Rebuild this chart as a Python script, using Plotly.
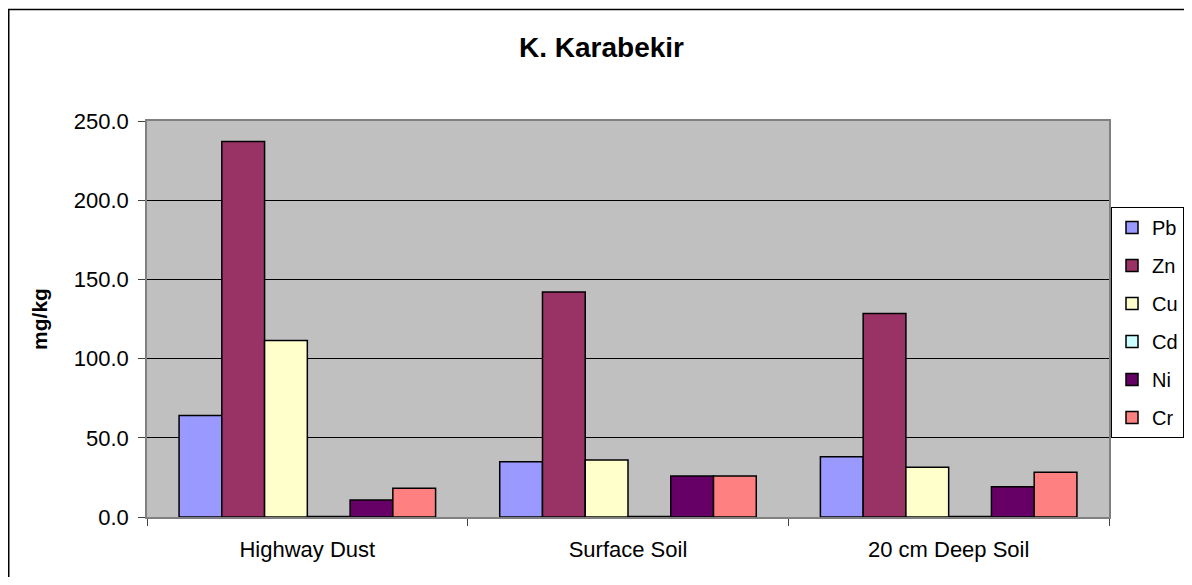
import plotly.graph_objects as go

categories = ["Highway Dust", "Surface Soil", "20 cm Deep Soil"]
series_names = ["Pb", "Zn", "Cu", "Cd", "Ni", "Cr"]
pb = [64.0, 34.9, 38.1]
zn = [237.0, 142.0, 128.5]
cu = [111.5, 36.0, 31.4]
cd = [0.3, 0.3, 0.3]
ni = [10.7, 25.9, 19.1]
cr = [18.1, 25.9, 28.2]
values = [pb, zn, cu, cd, ni, cr]
colors = ["#9999FF", "#993366", "#FFFFCC", "#CCFFFF", "#660066", "#FF8080"]
y_ticks = [0, 50, 100, 150, 200, 250]

FONT = "Liberation Sans, Arial, sans-serif"
OFF = 8  # page body margin
W, H = 1192 - 2 * OFF, 585 - 2 * OFF
L, R, T, B = 147 - OFF, 1109 - OFF, 121 - OFF, 517 - OFF
PW, PH = R - L, B - T

fig = go.Figure()
for name, vals, col in zip(series_names, values, colors):
    fig.add_trace(go.Bar(
        name=name, x=categories, y=vals, legendgroup=name,
        marker=dict(color=col, line=dict(color="black", width=1.5)),
    ))

fig.update_layout(
    width=W, height=H,
    margin=dict(l=L, r=W - R, t=T, b=H - B, autoexpand=False),
    paper_bgcolor="white", plot_bgcolor="#C0C0C0",
    barmode="group", bargap=0.2, bargroupgap=0,
    font=dict(family=FONT, size=22, color="black"),
    title=dict(text="<b>K. Karabekir</b>", x=(601.5 - OFF) / W, xanchor="center",
               xref="container", y=1 - (47 - OFF) / H, yanchor="middle",
               font=dict(family=FONT, size=28, color="black")),
    showlegend=True,
    legend=dict(x=(1111 - OFF - L) / PW, xanchor="left", y=(B - (207 - OFF)) / PH,
                yanchor="top", bordercolor="black", borderwidth=1, bgcolor="white",
                tracegroupgap=9, font=dict(family=FONT, size=20),
                itemwidth=30),
    xaxis=dict(showline=True, linecolor="#808080", linewidth=1.5, mirror=True,
               ticks="outside", tickson="boundaries", ticklen=7, tickcolor="#404040",
               automargin=False, ticklabelstandoff=12,
               tickfont=dict(family=FONT, size=22)),
    yaxis=dict(range=[0, 250], tickvals=y_ticks, tickformat=".1f",
               showline=True, linecolor="#808080", linewidth=1.5, mirror=True,
               ticks="outside", ticklen=7, tickcolor="#404040",
               showgrid=True, gridcolor="#000000", gridwidth=1,
               zeroline=False, automargin=False, ticklabelstandoff=5,
               title=dict(text="<b>mg/kg</b>", font=dict(family=FONT, size=21), standoff=20),
               tickfont=dict(family=FONT, size=22)),
    shapes=[dict(type="rect", xref="paper", yref="paper",
                 x0=(0.75 - L) / PW, x1=(W + 50 - L) / PW,
                 y0=(B - (H + 50)) / PH, y1=(B - 1.5) / PH,
                 line=dict(color="black", width=1.5), fillcolor="rgba(0,0,0,0)",
                 layer="below")],
)

fig.write_html("out.html")
